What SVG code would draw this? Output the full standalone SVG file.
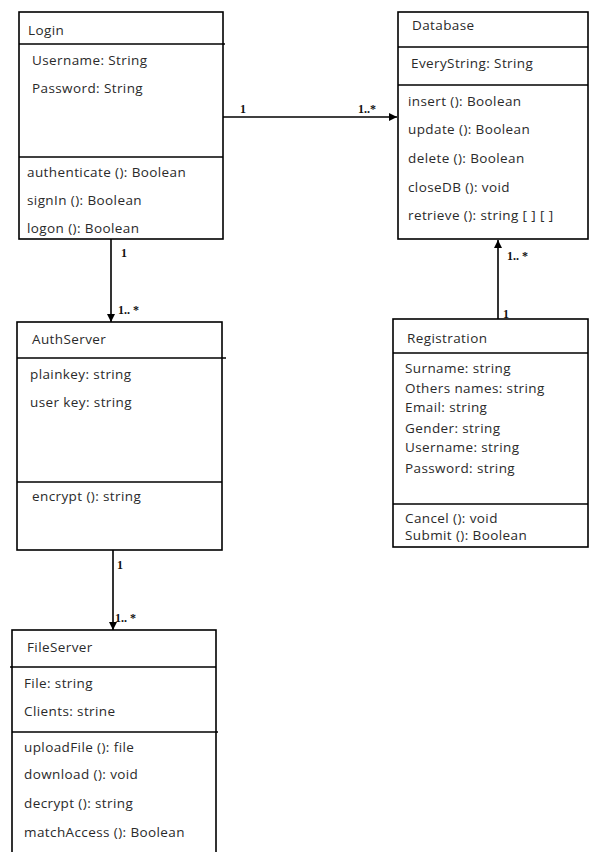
<svg xmlns="http://www.w3.org/2000/svg" width="590" height="852" viewBox="0 0 590 852">
<defs>
<marker id="arr" viewBox="0 0 10 10" refX="10" refY="5" markerWidth="8" markerHeight="8" markerUnits="userSpaceOnUse" orient="auto">
<path d="M0,0 L10,5 L0,10 z" fill="#000"/>
</marker>
<style>
.box{fill:#fff;stroke:#000;stroke-width:1.6}
.div{stroke:#000;stroke-width:1.4}
.t{font-family:"Open Sans","Liberation Sans",sans-serif;font-size:13.5px;letter-spacing:0.4px;fill:#2a2a2a}
.m{font-family:"Liberation Serif",serif;font-size:12px;font-weight:bold;fill:#111}
.c{stroke:#000;stroke-width:1.6;fill:none}
</style>
</defs>
<rect width="590" height="852" fill="#fff"/>
<g id="connectors">
<line class="c" x1="223" y1="117" x2="397" y2="117" marker-end="url(#arr)"/>
<text class="m" x="240" y="113">1</text>
<text class="m" x="358" y="113">1..*</text>
<line class="c" x1="111" y1="239" x2="111" y2="322" marker-end="url(#arr)"/>
<text class="m" x="121" y="257">1</text>
<text class="m" x="118" y="314">1.. *</text>
<line class="c" x1="498" y1="319" x2="498" y2="240" marker-end="url(#arr)"/>
<text class="m" x="507" y="260">1.. *</text>
<text class="m" x="503" y="318">1</text>
<line class="c" x1="113" y1="550" x2="113" y2="630" marker-end="url(#arr)"/>
<text class="m" x="117" y="569">1</text>
<text class="m" x="115" y="622">1.. *</text>
</g>
<g id="login">
<rect class="box" x="19" y="12" width="204" height="227"/>
<line class="div" x1="19" y1="44" x2="225" y2="44"/>
<line class="div" x1="19" y1="157" x2="223" y2="157"/>
<text class="t" x="28" y="35">Login</text>
<text class="t" x="32" y="65">Username: String</text>
<text class="t" x="32" y="93">Password: String</text>
<text class="t" x="27" y="177">authenticate (): Boolean</text>
<text class="t" x="27" y="205">signIn (): Boolean</text>
<text class="t" x="27" y="233">logon (): Boolean</text>
</g>
<g id="database">
<rect class="box" x="398" y="12" width="190" height="227"/>
<line class="div" x1="398" y1="47" x2="588" y2="47"/>
<line class="div" x1="398" y1="85" x2="588" y2="85"/>
<text class="t" x="412" y="30">Database</text>
<text class="t" x="411" y="68">EveryString: String</text>
<text class="t" x="408" y="106">insert (): Boolean</text>
<text class="t" x="408" y="134">update (): Boolean</text>
<text class="t" x="408" y="163">delete (): Boolean</text>
<text class="t" x="408" y="192">closeDB (): void</text>
<text class="t" x="408" y="220">retrieve (): string [ ] [ ]</text>
</g>
<g id="authserver">
<rect class="box" x="17" y="322" width="205" height="228"/>
<line class="div" x1="17" y1="358" x2="226" y2="358"/>
<line class="div" x1="17" y1="482" x2="222" y2="482"/>
<text class="t" x="32" y="344">AuthServer</text>
<text class="t" x="30" y="379">plainkey: string</text>
<text class="t" x="30" y="407">user key: string</text>
<text class="t" x="32" y="501">encrypt (): string</text>
</g>
<g id="registration">
<rect class="box" x="393" y="319" width="195" height="228"/>
<line class="div" x1="393" y1="353" x2="588" y2="353"/>
<line class="div" x1="393" y1="504" x2="588" y2="504"/>
<text class="t" x="407" y="343">Registration</text>
<text class="t" x="405" y="373">Surname: string</text>
<text class="t" x="405" y="393">Others names: string</text>
<text class="t" x="405" y="412">Email: string</text>
<text class="t" x="405" y="433">Gender: string</text>
<text class="t" x="405" y="452">Username: string</text>
<text class="t" x="405" y="473">Password: string</text>
<text class="t" x="405" y="523">Cancel (): void</text>
<text class="t" x="405" y="540">Submit (): Boolean</text>
</g>
<g id="fileserver">
<rect class="box" x="12" y="630" width="204" height="240"/>
<line class="div" x1="10" y1="667" x2="216" y2="667"/>
<line class="div" x1="12" y1="732" x2="218" y2="732"/>
<text class="t" x="27" y="652">FileServer</text>
<text class="t" x="24" y="688">File: string</text>
<text class="t" x="24" y="716">Clients: strine</text>
<text class="t" x="24" y="752">uploadFile (): file</text>
<text class="t" x="24" y="779">download (): void</text>
<text class="t" x="24" y="808">decrypt (): string</text>
<text class="t" x="24" y="837">matchAccess (): Boolean</text>
</g>
</svg>
